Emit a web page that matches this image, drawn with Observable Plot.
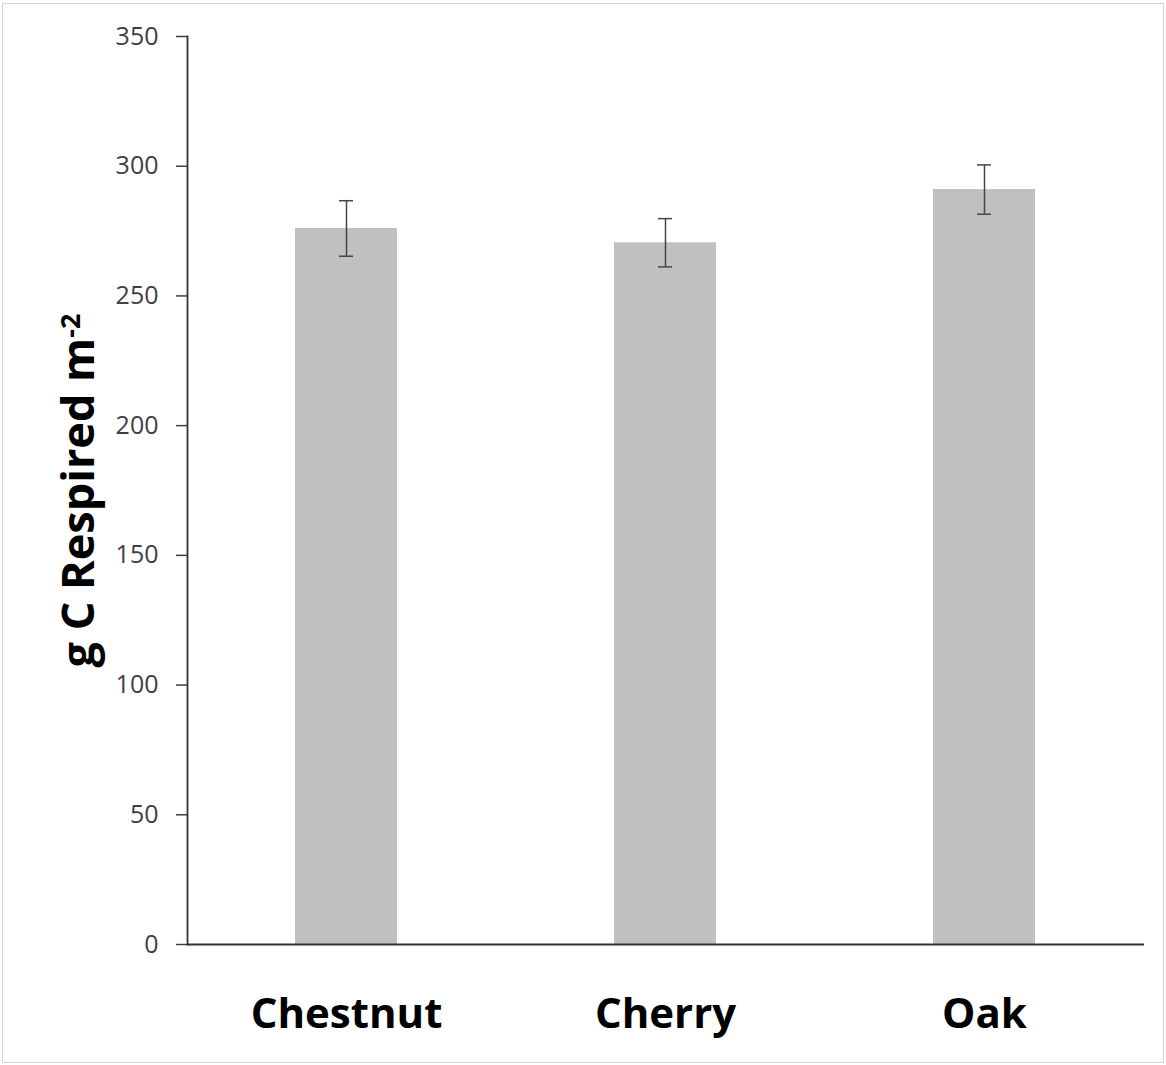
<!DOCTYPE html>
<html><head><meta charset="utf-8">
<script src="https://cdn.jsdelivr.net/npm/d3@7"></script>
<script src="https://cdn.jsdelivr.net/npm/@observablehq/plot@0.6"></script>
<style>
body{margin:0;background:#fff;}
#wrap{position:relative;width:1166px;height:1065px;}
#border{position:absolute;left:2px;top:3px;width:1160px;height:1058px;border:1px solid #d4d4d4;pointer-events:none;}
</style>
</head><body><div id="wrap"><div id="border"></div></div>
<script>
const categories = ["Chestnut", "Cherry", "Oak"];
const means = [276, 270.5, 291];
const errors = [10.7, 9.3, 9.5];
const yTicks = [0, 50, 100, 150, 200, 250, 300, 350];
const yLabel = "g C Respired m-2";

const data = categories.map((c, i) => ({species: c, mean: means[i], lo: means[i] - errors[i], hi: means[i] + errors[i]}));

const chart = Plot.plot({
  width: 1166,
  height: 1065,
  marginLeft: 187,
  marginRight: 22,
  marginTop: 36,
  marginBottom: 121,
  style: {fontFamily: "'Open Sans', sans-serif", background: "transparent"},
  x: {domain: categories, paddingInner: 0.68, paddingOuter: 0.34, align: 0.5},
  y: {domain: [0, 350]},
  marks: [
    Plot.barY(data, {x: "species", y: "mean", fill: "#c0c0c0"}),
    Plot.ruleX(data, {x: "species", y1: "lo", y2: "hi", stroke: "#444", strokeWidth: 1.5}),
    Plot.tickY(data, {x: "species", y: "lo", stroke: "#444", strokeWidth: 1.5, insetLeft: 44, insetRight: 44}),
    Plot.tickY(data, {x: "species", y: "hi", stroke: "#444", strokeWidth: 1.5, insetLeft: 44, insetRight: 44}),
    Plot.axisY({ticks: yTicks, tickSize: 11, tickPadding: 18, fontSize: 25, color: "#404040", strokeWidth: 1.5, label: null, tickFormat: d => String(d)}),
    Plot.frame({anchor: "left", stroke: "#333", strokeWidth: 1.8}),
    Plot.ruleY([0], {stroke: "#333", strokeWidth: 1.8}),
    Plot.axisX({tickSize: 0, tickPadding: 54, fontSize: 42, fontWeight: "bold", color: "#000", label: null}),
    Plot.text([yLabel], {frameAnchor: "left", text: d => d, rotate: -90, dx: -108, textAnchor: "middle", fontSize: 45, fontWeight: "bold", fill: "#000", className: "ylab"})
  ]
});

// superscript for the unit
d3.select(chart).selectAll(".ylab text").each(function() {
  const t = d3.select(this);
  t.text(null);
  t.append("tspan").text("g C Respired m");
  t.append("tspan").attr("dy", "-0.5em").attr("font-size", "0.6em").text("-2");
});

document.getElementById("wrap").prepend(chart);
</script>
</body></html>
